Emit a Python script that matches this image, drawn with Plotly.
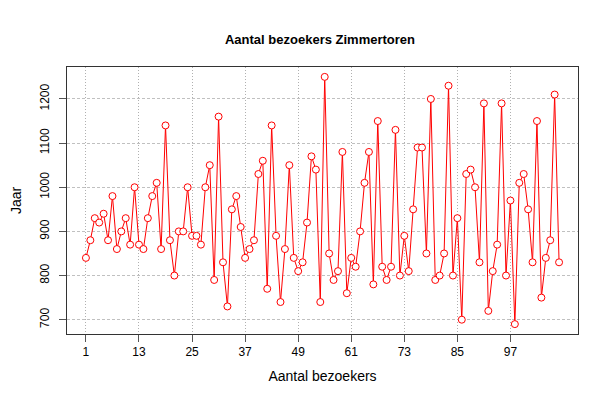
import plotly.graph_objects as go

values = [840, 880, 930, 920, 940, 880, 980, 860, 900, 930,
          870, 1000, 870, 860, 930, 980, 1010, 860, 1140, 880,
          800, 900, 900, 1000, 890, 890, 870, 1000, 1050, 790,
          1160, 830, 730, 950, 980, 910, 840, 860, 880, 1030,
          1060, 770, 1140, 890, 740, 860, 1050, 840, 810, 830,
          920, 1070, 1040, 740, 1250, 850, 790, 810, 1080, 760,
          840, 820, 900, 1010, 1080, 780, 1150, 820, 790, 820,
          1130, 800, 890, 810, 950, 1090, 1090, 850, 1200, 790,
          800, 850, 1230, 800, 930, 700, 1030, 1040, 1000, 830,
          1190, 720, 810, 870, 1190, 800, 970, 690, 1010, 1030,
          950, 830, 1150, 750, 840, 880, 1210, 830]
x_index = list(range(1, len(values) + 1))
x_ticks = [1, 13, 25, 37, 49, 61, 73, 85, 97]
y_ticks = [700, 800, 900, 1000, 1100, 1200]

n = len(values)
pad_x = 0.04 * (n - 1)
ymin, ymax = min(values), max(values)
pad_y = 0.04 * (ymax - ymin)

fig = go.Figure()
fig.add_trace(go.Scatter(
    x=x_index, y=values, mode="lines+markers",
    line=dict(color="red", width=1),
    marker=dict(symbol="circle", size=7, color="white",
                line=dict(color="red", width=1)),
    showlegend=False,
))

font_family = "Liberation Sans, Arial, sans-serif"
fig.update_layout(
    width=600, height=400,
    margin=dict(l=59, r=30, t=59, b=74),
    paper_bgcolor="white", plot_bgcolor="white",
    font=dict(family=font_family, size=12, color="black"),
    title=dict(text="<b>Aantal bezoekers Zimmertoren</b>", x=0.52, xanchor="center",
               y=1 - 31 / 400, yanchor="middle", font=dict(size=13)),
)
fig.update_xaxes(
    range=[1 - pad_x, n + pad_x],
    tickmode="array", tickvals=x_ticks, ticktext=[str(t) for t in x_ticks],
    ticks="outside", ticklen=7, tickcolor="#555",
    showline=True, linecolor="#333", linewidth=1, mirror=True,
    showgrid=True, gridcolor="#b0b0b0", griddash="1px,2px", gridwidth=1,
    zeroline=False, automargin=False,
    title=dict(text="Aantal bezoekers", standoff=12),
    tickfont=dict(size=12),
)
fig.update_yaxes(
    range=[ymin - pad_y, ymax + pad_y],
    tickmode="array", tickvals=y_ticks, ticktext=[str(t) for t in y_ticks],
    ticks="outside", ticklen=7, tickcolor="#555", tickangle=-90,
    ticklabelstandoff=5,
    showline=True, linecolor="#333", linewidth=1, mirror=True,
    showgrid=True, gridcolor="#c0c0c0", griddash="3px,2px", gridwidth=1,
    zeroline=False, automargin=False,
    title=dict(text="Jaar", standoff=24),
    tickfont=dict(size=12),
)

fig.write_html("out.html")
